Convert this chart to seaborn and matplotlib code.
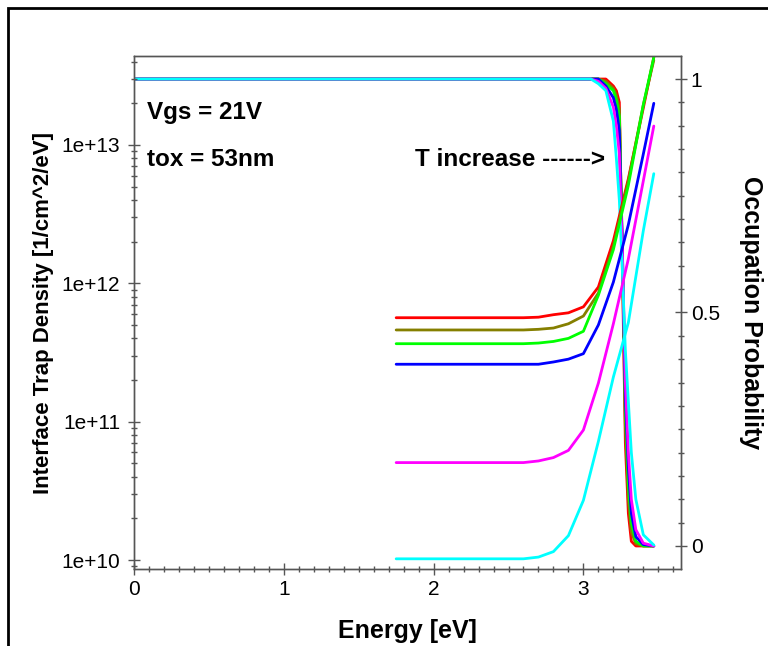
import numpy as np
import pandas as pd
import matplotlib
matplotlib.use("Agg")
import matplotlib.pyplot as plt
from matplotlib.patches import Rectangle
from matplotlib.ticker import FixedLocator, NullFormatter, MultipleLocator
import seaborn as sns

# ---------------- data ----------------
series_names = ["T1", "T2", "T3", "T4", "T5", "T6"]
colors = ["#ff0000", "#857f00", "#00ff00", "#0000ff", "#ff00ff", "#00ffff"]

# Interface trap density vs energy (left, log axis)
energy_dit = [1.75, 2.6, 2.7, 2.8, 2.9, 3.0, 3.1, 3.2, 3.3, 3.4, 3.47]
dit_T1 = [5.64e11, 5.64e11, 5.69e11, 5.93e11, 6.12e11, 6.76e11, 9.4e11, 2.03e12, 5.7e12, 1.85e13, 4.3e13]
dit_T2 = [4.6e11, 4.6e11, 4.65e11, 4.75e11, 5.1e11, 5.8e11, 8.5e11, 1.85e12, 5.5e12, 1.95e13, 4.1e13]
dit_T3 = [3.66e11, 3.66e11, 3.7e11, 3.8e11, 4.0e11, 4.5e11, 8.2e11, 1.75e12, 5.1e12, 1.95e13, 4.3e13]
dit_T4 = [2.6e11, 2.6e11, 2.6e11, 2.7e11, 2.83e11, 3.1e11, 5.0e11, 1.02e12, 2.65e12, 8.6e12, 2.0e13]
dit_T5 = [5.06e10, 5.06e10, 5.2e10, 5.5e10, 6.2e10, 8.7e10, 1.9e11, 5.1e11, 1.5e12, 5.5e12, 1.37e13]
dit_T6 = [1.02e10, 1.02e10, 1.05e10, 1.15e10, 1.5e10, 2.7e10, 7.2e10, 2.1e11, 5.2e11, 2.4e12, 6.2e12]

# Occupation probability vs energy (right axis)
energy_occ = [0.0, 3.05, 3.1, 3.15, 3.2, 3.22, 3.24, 3.26, 3.28, 3.3, 3.32, 3.35, 3.4, 3.47]
occ_T1 = [1, 1, 1, 1, 0.985, 0.975, 0.95, 0.6, 0.22, 0.07, 0.01, 0.0, 0.0, 0.0]
occ_T2 = [1, 1, 1, 0.995, 0.98, 0.965, 0.935, 0.62, 0.26, 0.1, 0.03, 0.005, 0.0, 0.0]
occ_T3 = [1, 1, 1, 0.99, 0.975, 0.955, 0.92, 0.64, 0.29, 0.13, 0.05, 0.01, 0.0, 0.0]
occ_T4 = [1, 1, 1, 0.985, 0.96, 0.935, 0.89, 0.64, 0.32, 0.17, 0.07, 0.02, 0.003, 0.0]
occ_T5 = [1, 1, 0.995, 0.98, 0.94, 0.9, 0.84, 0.63, 0.35, 0.2, 0.1, 0.035, 0.006, 0.0]
occ_T6 = [1, 1, 0.99, 0.975, 0.91, 0.83, 0.74, 0.59, 0.42, 0.31, 0.2, 0.1, 0.024, 0.002]

x_ticks = [0, 1, 2, 3]
y_left_ticks = [1e10, 1e11, 1e12, 1e13]
y_left_labels = ["1e+10", "1e+11", "1e+12", "1e+13"]
y_right_ticks = [0, 0.5, 1]
y_right_labels = ["0", "0.5", "1"]

dit_all = [dit_T1, dit_T2, dit_T3, dit_T4, dit_T5, dit_T6]
occ_all = [occ_T1, occ_T2, occ_T3, occ_T4, occ_T5, occ_T6]

df_dit = pd.concat([pd.DataFrame({"E": energy_dit, "val": v, "T": n})
                    for n, v in zip(series_names, dit_all)], ignore_index=True)
df_occ = pd.concat([pd.DataFrame({"E": energy_occ, "val": v, "T": n})
                    for n, v in zip(series_names, occ_all)], ignore_index=True)

# ---------------- style ----------------
sns.set_style("white")
plt.rcParams["font.family"] = ["Liberation Sans", "DejaVu Sans"]
plt.rcParams["text.color"] = "black"
plt.rcParams["axes.labelcolor"] = "black"
plt.rcParams["xtick.color"] = "black"
plt.rcParams["ytick.color"] = "black"

W, H = 768, 646
fig = plt.figure(figsize=(W / 100, H / 100), dpi=100)
L, R, T, B = 134, 681, 56, 569
ax = fig.add_axes([L / W, 1 - B / H, (R - L) / W, (B - T) / H])
ax2 = ax.twinx()

palette = dict(zip(series_names, colors))

ax2.set_ylim(-0.0493, 1.0493)
sns.lineplot(data=df_occ, x="E", y="val", hue="T", palette=palette, ax=ax2,
             legend=False, linewidth=2, sort=False, estimator=None)

ax.set_yscale("log")
sns.lineplot(data=df_dit, x="E", y="val", hue="T", palette=palette, ax=ax,
             legend=False, linewidth=2, sort=False, estimator=None)
ax.set_zorder(ax2.get_zorder() + 1)
ax.patch.set_visible(False)

ax.set_xlim(0, (R - L) / 149.8)
ax.set_ylim(10 ** 9.935, 10 ** 13.643)

grey = "#555555"
for a in (ax, ax2):
    for s in a.spines.values():
        s.set_color(grey)
        s.set_linewidth(1.0)

ax.set_xticks(x_ticks)
ax.set_xticklabels([str(t) for t in x_ticks])
ax.xaxis.set_minor_locator(MultipleLocator(0.1))
ax.set_yticks(y_left_ticks)
ax.set_yticklabels(y_left_labels)
minors = [m * 10 ** e for e in range(9, 14) for m in range(2, 10)]
ax.yaxis.set_minor_locator(FixedLocator(minors))
ax.yaxis.set_minor_formatter(NullFormatter())

ax.tick_params(axis="both", which="major", direction="inout", length=8, width=1,
               color=grey, labelsize=15, pad=4, labelcolor="black")
ax.tick_params(axis="y", which="major", pad=6)
ax.tick_params(axis="both", which="minor", direction="inout", length=5, width=1,
               color=grey)
ax.tick_params(axis="x", which="both", top=False, bottom=True)
ax.tick_params(axis="y", which="both", right=False, left=True)

ax2.set_yticks(y_right_ticks)
ax2.set_yticklabels(y_right_labels)
ax2.yaxis.set_minor_locator(MultipleLocator(0.05))
ax2.tick_params(axis="y", which="major", direction="inout", length=8, width=1,
                color=grey, labelsize=15, pad=3, labelcolor="black")
ax2.tick_params(axis="y", which="minor", direction="inout", length=5, width=1,
                color=grey)

ax.set_xlabel("Energy [eV]", fontsize=18, fontweight="bold", labelpad=14)
ax.set_ylabel("Interface Trap Density [1/cm^2/eV]", fontsize=16,
              fontweight="bold", labelpad=5)
ax2.set_ylabel("Occupation Probability", fontsize=18, fontweight="bold",
               rotation=270, labelpad=31)

ax.text((147 - L) / (R - L), (B - 113) / (B - T), "Vgs = 21V",
        transform=ax.transAxes, fontsize=17.5, fontweight="bold", va="center")
ax.text((147 - L) / (R - L), (B - 160) / (B - T), "tox = 53nm",
        transform=ax.transAxes, fontsize=17.5, fontweight="bold", va="center")
ax.text((415 - L) / (R - L), (B - 160) / (B - T), "T increase ------>",
        transform=ax.transAxes, fontsize=17.5, fontweight="bold", va="center")

# outer frame (figure border)
fig.patches.append(Rectangle((8 / W, -0.1), 1.2, 1 - 8 / H + 0.1,
                             transform=fig.transFigure, fill=False,
                             edgecolor="black", linewidth=2))

fig.savefig("out.png", dpi=100)
